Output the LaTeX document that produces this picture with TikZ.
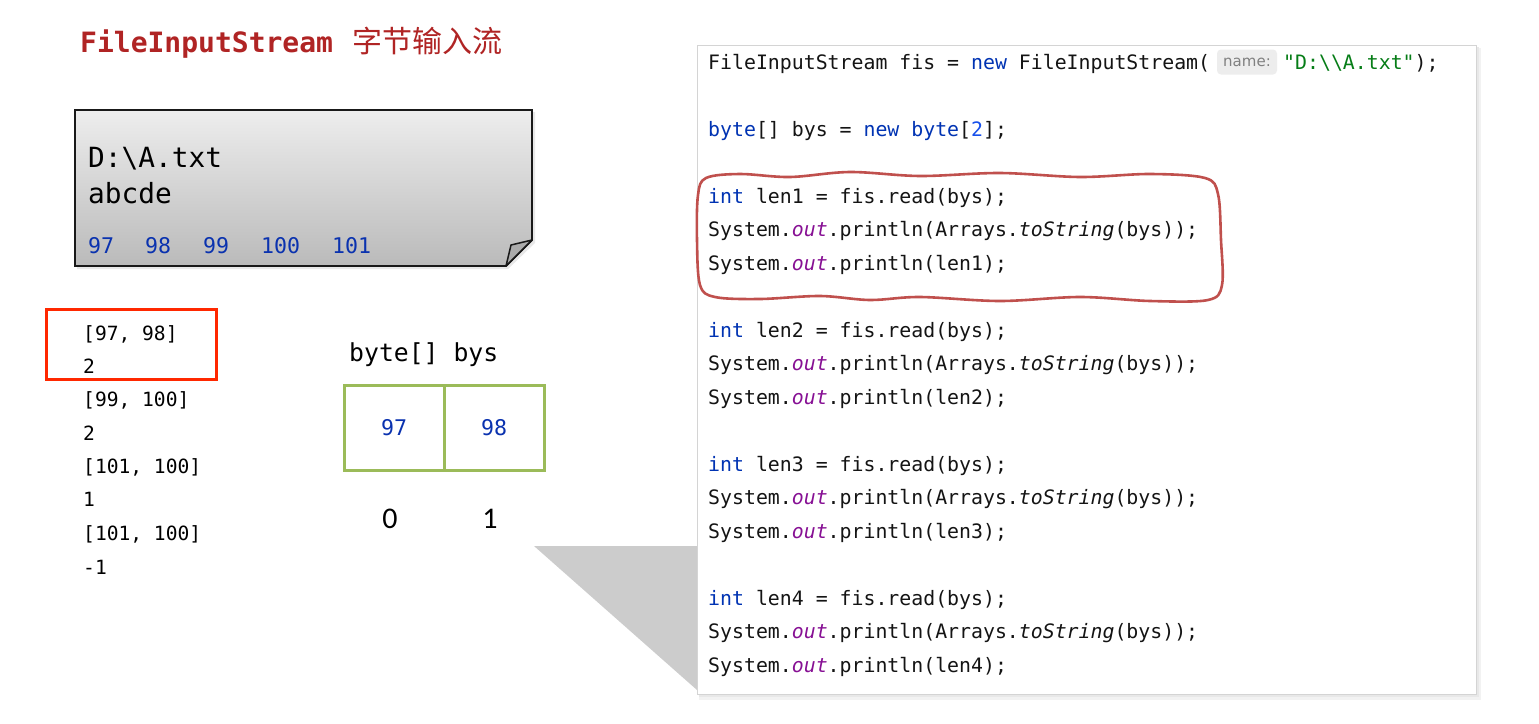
\documentclass[tikz,border=0pt]{standalone}
\usepackage{fontspec}
\setmonofont{DejaVu Sans Mono}
\newfontfamily\cjk{Noto Sans CJK SC}
\newfontfamily\numfont{Carlito}
\newfontfamily\hintfont{DejaVu Sans}
\definecolor{titlered}{RGB}{176,36,36}
\definecolor{kw}{RGB}{0,51,179}
\definecolor{numc}{RGB}{23,80,235}
\definecolor{strc}{RGB}{6,125,23}
\definecolor{fld}{RGB}{135,16,148}
\definecolor{valblue}{RGB}{10,50,175}
\definecolor{boxred}{RGB}{255,40,0}
\definecolor{cellgreen}{RGB}{155,187,89}
\definecolor{loopred}{RGB}{192,80,77}
\newcommand{\codesize}{\fontsize{19.85}{24}\selectfont}
\newcommand{\kwd}[1]{\textcolor{kw}{#1}}
\newcommand{\outf}{\textcolor{fld}{\itshape out}}
\begin{document}
\begin{tikzpicture}[x=1pt,y=-1pt,
  code/.style={anchor=base west,inner sep=0pt,font=\ttfamily\codesize,text=black!92},
  outtxt/.style={anchor=base west,inner sep=0pt,font=\ttfamily\fontsize{19.6}{24}\selectfont,text=black},
  notetxt/.style={anchor=base west,inner sep=0pt,font=\ttfamily\fontsize{27.8}{32}\selectfont},
  noteval/.style={anchor=base west,inner sep=0pt,font=\ttfamily\fontsize{21.6}{26}\selectfont,text=valblue},
  cell/.style={draw=cellgreen,line width=3pt,minimum width=100pt,minimum height=85pt,inner sep=0pt,
    font=\ttfamily\fontsize{21.6}{26}\selectfont,text=valblue},
  idx/.style={inner sep=0pt,font=\numfont\fontsize{30}{34}\selectfont}]
\useasboundingbox (0,0) rectangle (1539,723);

% title
\node[anchor=base west,inner sep=0pt,text=titlered,font=\ttfamily\bfseries\fontsize{28}{32}\selectfont] (title) at (80,52) {FileInputStream};
\node[anchor=base west,inner sep=0pt,text=titlered,font=\cjk\fontsize{30}{34}\selectfont] (titlecn) at (352,52) {字节输入流};

% note (file)
\fill[black!15,opacity=0.6] (77,112) -- (535,112) -- (535,243) -- (508,269) -- (77,269) -- cycle;
\draw[draw=black!90,line width=1.8pt,top color=black!7,bottom color=black!27]
  (75,110) -- (532,110) -- (532,240) -- (506,266) -- (75,266) -- cycle;
\draw[draw=black!90,line width=1.5pt,fill=black!33,line join=round] (506,266) -- (511,245) -- (532,240) -- cycle;
\node[notetxt] (fname) at (88,167) {D:\textbackslash A.txt};
\node[notetxt] (fcontent) at (88,203) {abcde};
\node[noteval] (v97) at (88,253) {97};
\node[noteval] (v98) at (145,253) {98};
\node[noteval] (v99) at (203,253) {99};
\node[noteval] (v100) at (261,253) {100};
\node[noteval] (v101) at (332,253) {101};

% output list
\draw[draw=boxred,line width=3pt] (46,309) rectangle (216,379);
\node[outtxt] (o1) at (83,340) {[97, 98]};
\node[outtxt] (o2) at (83,373) {2};
\node[outtxt] (o3) at (83,406) {[99, 100]};
\node[outtxt] (o4) at (83,440) {2};
\node[outtxt] (o5) at (83,473) {[101, 100]};
\node[outtxt] (o6) at (83,506) {1};
\node[outtxt] (o7) at (83,540) {[101, 100]};
\node[outtxt] (o8) at (83,574) {-1};

% byte array
\node[anchor=base west,inner sep=0pt,font=\ttfamily\fontsize{24.75}{30}\selectfont] (arrname) at (349,361) {byte[] bys};
\node[cell] (a0) at (394,427.5) {97};
\node[cell] (a1) at (494,427.5) {98};
\node[idx] (i0) at (390,519) {0};
\node[idx] (i1) at (490,519) {1};

% big perspective shadow
\fill[black!20] (534,546) -- (697,546) -- (697,690) -- cycle;

% code panel
\fill[black!5] (699,48) rectangle (1481,700);
\fill[black!9] (699,47) rectangle (1479,697);
\draw[draw=black!17,fill=white,line width=1pt] (697,45) rectangle (1476,694);

\node[code] (c1) at (708,69) {FileInputStream fis = \kwd{new} FileInputStream(};
\node[fill=black!7,rounded corners=4pt,minimum width=60pt,minimum height=25pt,inner sep=0pt,
  text=black!50,font=\hintfont\fontsize{15}{18}\selectfont] (hint) at (1247,62) {name:};
\node[code] (c1b) at (1283,69) {\textcolor{strc}{"D:\textbackslash\textbackslash A.txt"});};
\node[code] (c2) at (708,136) {\kwd{byte}[] bys = \kwd{new} \kwd{byte}[\textcolor{numc}{2}];};

\node[code] (c3) at (708,203) {\kwd{int} len1 = fis.read(bys);};
\node[code] (c4) at (708,236) {System.\outf.println(Arrays.{\itshape toString}(bys));};
\node[code] (c5) at (708,270) {System.\outf.println(len1);};

\node[code] (c6) at (708,337) {\kwd{int} len2 = fis.read(bys);};
\node[code] (c7) at (708,370) {System.\outf.println(Arrays.{\itshape toString}(bys));};
\node[code] (c8) at (708,404) {System.\outf.println(len2);};

\node[code] (c9) at (708,471) {\kwd{int} len3 = fis.read(bys);};
\node[code] (c10) at (708,504) {System.\outf.println(Arrays.{\itshape toString}(bys));};
\node[code] (c11) at (708,538) {System.\outf.println(len3);};

\node[code] (c12) at (708,605) {\kwd{int} len4 = fis.read(bys);};
\node[code] (c13) at (708,638) {System.\outf.println(Arrays.{\itshape toString}(bys));};
\node[code] (c14) at (708,672) {System.\outf.println(len4);};

% hand-drawn loop
\draw[loopred,line width=2.6pt,line join=round] plot[smooth cycle,tension=0.55] coordinates {
  (706,178) (740,174) (790,177) (850,172) (920,176) (1000,173) (1080,177) (1150,174) (1205,178)
  (1218,194) (1221,240) (1222,285) (1208,300) (1150,301) (1080,297) (1000,301) (920,297)
  (870,300) (820,296) (760,299) (715,297) (700,285) (697,240) (698,195)};
\end{tikzpicture}
\end{document}
